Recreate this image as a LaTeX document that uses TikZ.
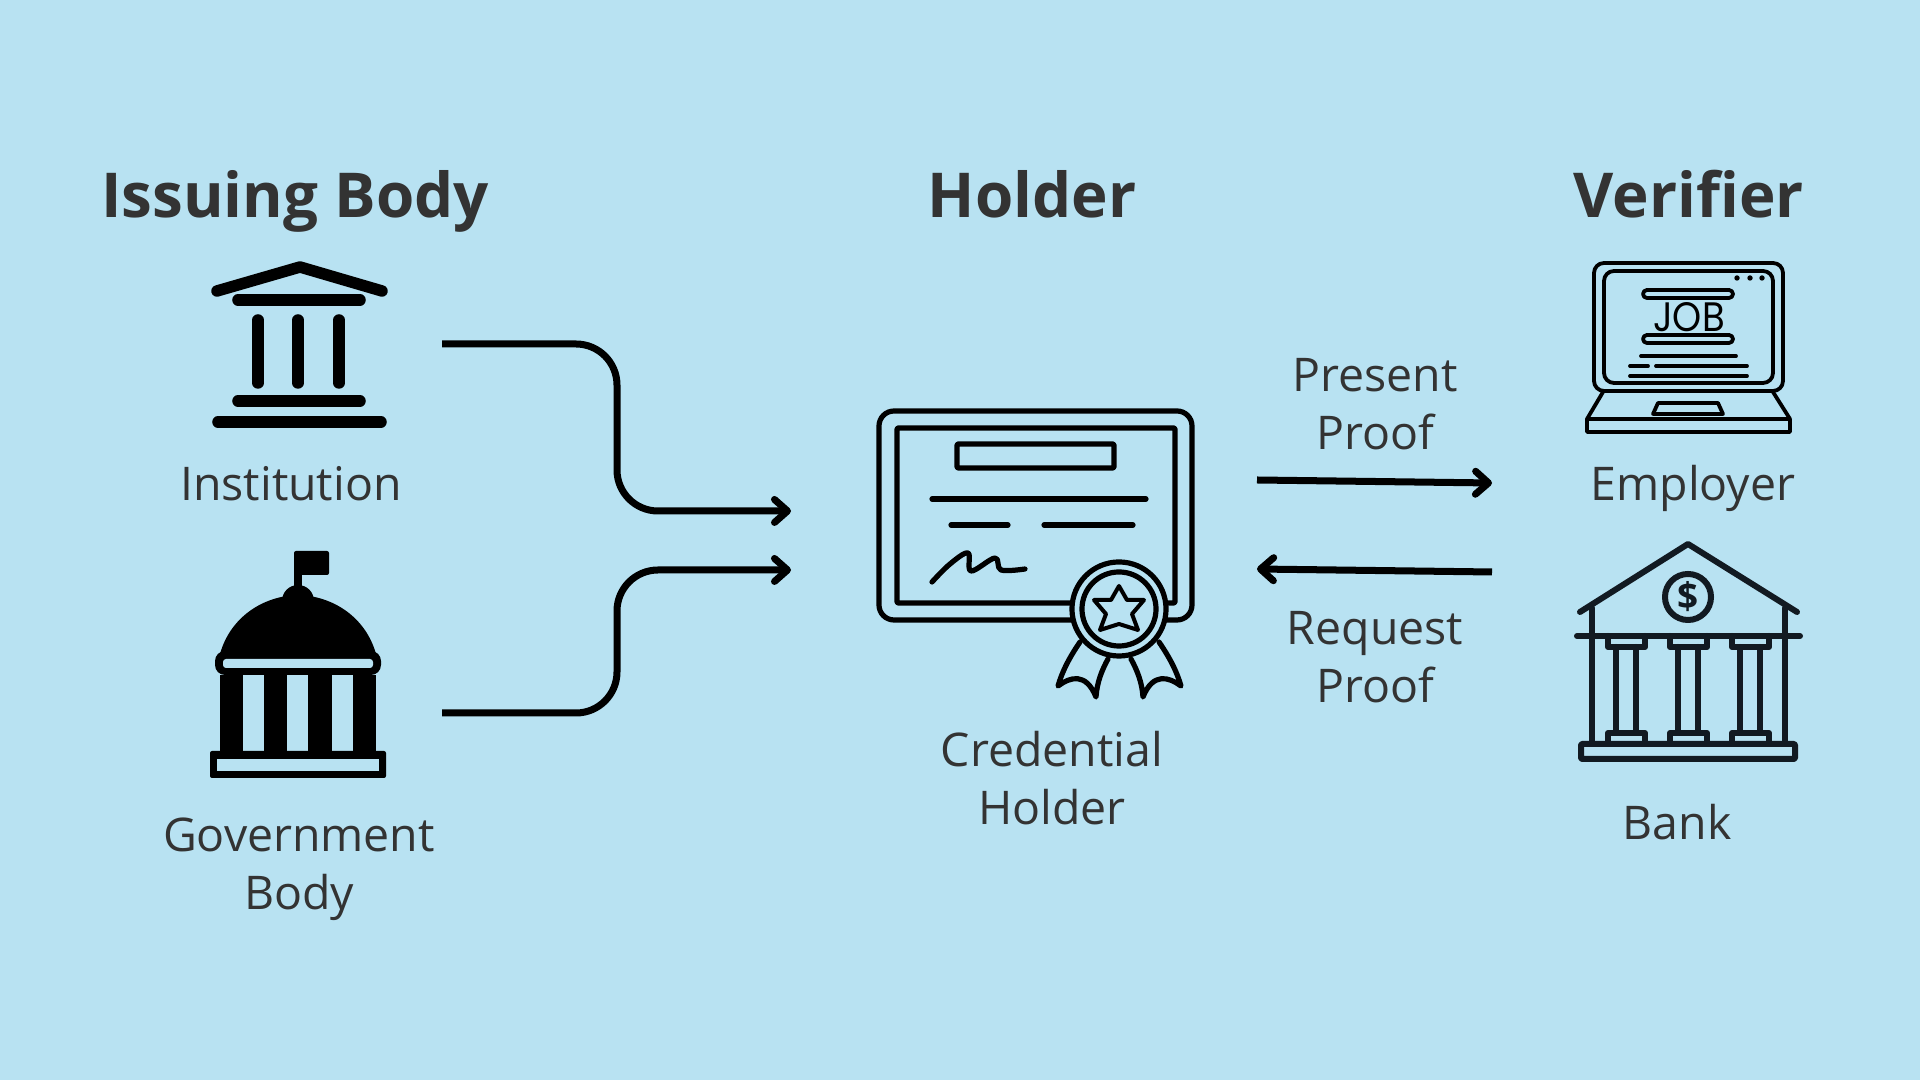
\documentclass[tikz,border=0pt]{standalone}
\usepackage{xcolor}
\usepackage{fontspec}
\usepackage{tikz}
\usetikzlibrary{arrows.meta}
\setmainfont{Open Sans}
\newfontfamily\jobfont{Poppins}
\definecolor{skyback}{HTML}{B8E2F2}
\definecolor{inktext}{HTML}{333333}
\definecolor{bankink}{HTML}{121A22}

\begin{document}
\begin{tikzpicture}[x=0.01cm, y=-0.01cm, >={Straight Barb[length=0.13cm, width=0.23cm, round, line width=0.07cm]}]
    \tikzstyle{heading} = [font=\fontsize{17.6}{21}\selectfont\bfseries, text=inktext, anchor=base, inner sep=0pt]
    \tikzstyle{caption} = [font=\fontsize{13.2}{16.4}\selectfont, text=inktext, align=center, inner sep=0pt]
    \tikzstyle{flow} = [->, line width=0.07cm, black]
    \tikzstyle{thick icon} = [line width=0.115cm, line cap=round, black]
    \tikzstyle{outline} = [line width=0.052cm, line cap=round, line join=round, black]
    \tikzstyle{laptop} = [line width=0.038cm, line cap=round, line join=round, black]
    \tikzstyle{bankline} = [line width=0.06cm, line cap=round, line join=round, bankink]

    \fill[skyback] (0, 0) rectangle (1920, 1080);
    \useasboundingbox (0, 0) rectangle (1920, 1080);

    % Headings
    \node (issuing)  [heading] at (295, 218) {Issuing Body};
    \node (holder)   [heading] at (1032, 218) {Holder};
    \node (verifier) [heading] at (1689, 218) {Verifier};

    % Captions
    \node (institution) [caption, anchor=base] at (291, 501) {Institution};
    \node (government)  [caption] at (299, 869) {Government\\Body};
    \node (credential)  [caption] at (1052, 778) {Credential\\Holder};
    \node (present)     [caption] at (1375, 404) {Present\\Proof};
    \node (request)     [caption] at (1375, 657) {Request\\Proof};
    \node (employer)    [caption, anchor=base] at (1693, 501) {Employer};
    \node (bank)        [caption, anchor=base] at (1677, 840) {Bank};

    % Institution icon
    \draw[thick icon, line join=round] (217, 291) -- (300, 267) -- (382, 291);
    \draw[thick icon] (238, 300) -- (360, 300);
    \draw[thick icon] (258, 320) -- (258, 383);
    \draw[thick icon] (298, 320) -- (298, 383);
    \draw[thick icon] (339, 320) -- (339, 383);
    \draw[thick icon] (238, 401) -- (360, 401);
    \draw[thick icon] (218, 422) -- (381, 422);

    % Government icon
    \fill[black, rounded corners=0.02cm] (294, 551) rectangle (329, 575);
    \fill[black] (294, 560) rectangle (302, 590);
    \fill[black] (298, 601) circle[radius=0.16cm];
    \fill[black] (220, 665) -- (220, 654) .. controls (230, 618) and (262, 596) .. (298, 595)
      .. controls (334, 596) and (366, 618) .. (376, 654) -- (376, 665) -- cycle;
    \fill[black, rounded corners=0.1cm] (215, 651) rectangle (381, 675);
    \fill[skyback, rounded corners=0.03cm] (223, 659) rectangle (373, 668);
    \fill[black] (220, 675) rectangle (376, 752);
    \foreach \winx in {243, 287, 332}
      \fill[skyback] (\winx, 675) rectangle ++(21, 76);
    \fill[black, rounded corners=0.02cm] (210, 751) rectangle (386, 778);
    \fill[skyback] (217, 759) rectangle (379, 771);

    % Connectors into the holder
    \coordinate (institutionout) at (442, 344);
    \coordinate (governmentout) at (442, 713);
    \coordinate (uppertop) at (617, 344);
    \coordinate (upperbottom) at (617, 511);
    \coordinate (lowertop) at (617, 570);
    \coordinate (lowerbottom) at (617, 713);
    \coordinate (holderupper) at (791, 511);
    \coordinate (holderlower) at (791, 570);
    \draw[flow, rounded corners=0.41cm] (institutionout) -- (uppertop) -- (upperbottom) -- (holderupper);
    \draw[flow, rounded corners=0.41cm] (governmentout) -- (lowerbottom) -- (lowertop) -- (holderlower);

    % Certificate icon
    \draw[outline, rounded corners=0.15cm] (879, 411) rectangle (1192, 620);
    \draw[outline, rounded corners=0.01cm] (897, 428) rectangle (1175, 603);
    \draw[outline, rounded corners=0.01cm] (957, 444) rectangle (1114, 468);
    \draw[outline] (932, 499) -- (1146, 499);
    \draw[outline] (951, 525) -- (1008, 525);
    \draw[outline] (1044, 525) -- (1133, 525);
    \draw[outline] plot[smooth, tension=0.6] coordinates {(932, 582) (950, 564) (968, 553) (971, 571) (995, 558) (1001, 570) (1025, 569)};

    % Seal and ribbons
    \draw[outline] (1080, 642) .. controls (1069, 658) and (1062, 672) .. (1058, 686)
      .. controls (1070, 677) and (1086, 672) .. (1096, 697)
      .. controls (1097, 682) and (1102, 670) .. (1108, 659);
    \draw[outline] (1159, 642) .. controls (1170, 658) and (1177, 672) .. (1181, 686)
      .. controls (1169, 677) and (1153, 672) .. (1143, 697)
      .. controls (1142, 682) and (1137, 670) .. (1131, 659);
    \draw[outline, fill=skyback] (1119, 609) circle[radius=0.47cm];
    \draw[outline] (1119, 609) circle[radius=0.37cm];
    \draw[outline, line width=0.04cm] (1119, 586) -- (1127, 600) -- (1144, 600) -- (1132, 614) -- (1138, 630)
      -- (1119, 624) -- (1100, 630) -- (1106, 614) -- (1094, 600) -- (1111, 600) -- cycle;

    % Connectors to and from the verifier
    \coordinate (presentout) at (1257, 480);
    \coordinate (presentin) at (1492, 483);
    \coordinate (requestout) at (1492, 572);
    \coordinate (requestin) at (1257, 569);
    \draw[flow] (presentout) -- (presentin);
    \draw[flow] (requestout) -- (requestin);

    % Laptop icon
    \draw[laptop, rounded corners=0.1cm] (1594, 263) rectangle (1783, 391);
    \draw[laptop, rounded corners=0.1cm] (1604, 271) rectangle (1773, 383);
    \foreach \dotx in {1737, 1750, 1762}
      \fill[black] (\dotx, 278) circle[radius=0.027cm];
    \draw[laptop, rounded corners=0.04cm] (1643, 290) rectangle (1733, 298);
    \draw[laptop, rounded corners=0.04cm] (1643, 335) rectangle (1733, 343);
    \node (job) [inner sep=0pt, xscale=0.9, font=\fontsize{11.7}{12}\jobfont] at (1689, 317) {JOB};
    \draw[laptop] (1641, 356) -- (1736, 356);
    \draw[laptop] (1630, 366) -- (1648, 366);
    \draw[laptop] (1656, 366) -- (1747, 366);
    \draw[laptop] (1630, 376) -- (1747, 376);
    \draw[laptop] (1603, 392) -- (1587, 419);
    \draw[laptop] (1773, 392) -- (1790, 419);
    \draw[laptop] (1587, 419) rectangle (1790, 432);
    \draw[laptop] (1658, 403) -- (1718, 403) -- (1723, 414) -- (1653, 414) -- cycle;

    % Bank icon
    \draw[bankline] (1580, 612) -- (1688, 544) -- (1797, 612);
    \draw[bankline] (1688, 597) circle[radius=0.23cm];
    \node (dollar) [inner sep=0pt, text=bankink, font=\fontsize{10.5}{11}\selectfont\bfseries] at (1688, 597) {\$};
    \draw[bankline] (1577, 636) -- (1800, 636);
    \draw[bankline] (1592, 608) -- (1592, 744);
    \draw[bankline] (1785, 608) -- (1785, 744);
    \foreach \colx in {1608, 1670, 1732} {
      \draw[bankline] (\colx, 636) -- (\colx, 647) -- ++(37, 0) -- ++(0, -11);
      \draw[bankline] (\colx, 744) -- (\colx, 733) -- ++(37, 0) -- ++(0, 11);
      \draw[bankline] (\colx + 8, 647) -- (\colx + 8, 733);
      \draw[bankline] (\colx + 28, 647) -- (\colx + 28, 733);
    }
    \draw[bankline, rounded corners=0.01cm] (1581, 744) rectangle (1795, 759);
\end{tikzpicture}
\end{document}
